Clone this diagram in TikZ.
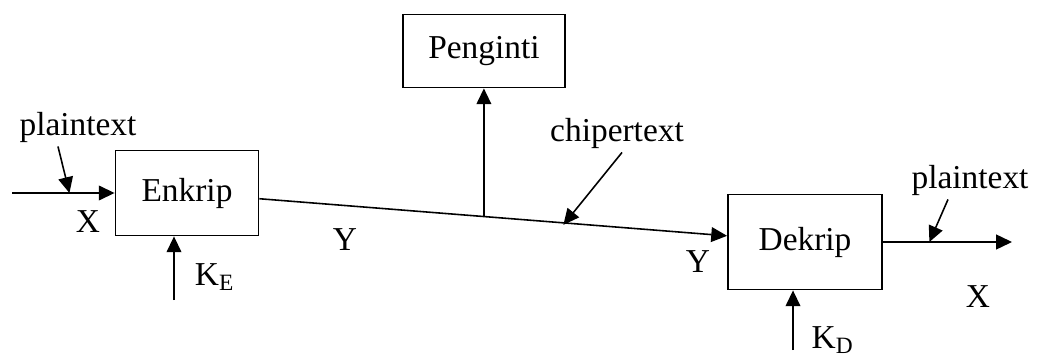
\documentclass[tikz,border=0pt]{standalone}
\usepackage{fontspec}
\setmainfont{Liberation Serif}
\usetikzlibrary{arrows.meta, calc}

\tikzset{
  every block/.style={draw, line width=0.5pt, inner sep=2pt},
  every tag/.style={inner sep=1pt},
}

\begin{document}
\begin{tikzpicture}[x=0.01cm, y=-0.01cm, line width=0.45pt,
    >={Triangle[length=4.5pt, width=4.2pt]},
    font=\fontsize{9.5}{11}\selectfont]
  \useasboundingbox (0,0) rectangle (1064,361);

  \node [every block/.try, minimum width=1.43cm, minimum height=0.85cm](enkrip) at (187,193) {Enkrip};
  \node [every block/.try, minimum width=1.62cm, minimum height=0.73cm](penginti) at (484,51) {Penginti};
  \node [every block/.try, minimum width=1.54cm, minimum height=0.95cm](dekrip) at (805,242) {Dekrip};

  \coordinate (in) at (12,193);
  \coordinate (out) at (1012,242);
  \coordinate (ke) at (174,300);
  \coordinate (kd) at (793,350);
  \coordinate (tap) at ($(enkrip.east)!0.48!(dekrip.west)$);
  \coordinate (x-in) at ($(in)!0.56!(enkrip.west)$);
  \coordinate (y-mid) at ($(enkrip.east)!0.65!(dekrip.west)$);
  \coordinate (x-out) at ($(dekrip.east)!0.36!(out)$);

  % main path
  \draw [->] (in) -- (enkrip);
  \draw [->] (enkrip) -- (dekrip);
  \draw [->] (dekrip) -- (out);
  \draw [->] (tap) -- (tap |- penginti.south);

  % keys
  \draw [->] (ke) -- (ke |- enkrip.south);
  \draw [->] (kd) -- (kd |- dekrip.south);

  % pointers
  \node [every tag/.try](pt-in) at (78,127) {plaintext};
  \node [every tag/.try](ct) at (617,133) {chipertext};
  \node [every tag/.try](pt-out) at (970,180) {plaintext};
  \draw [->] ([xshift=-0.2cm]pt-in.south) -- (x-in);
  \draw [->] ([xshift=0.05cm]ct.south) -- (y-mid);
  \draw [->] ([xshift=-0.22cm]pt-out.south) -- (x-out);

  \foreach \t/\p in {X/{(88,222)}, Y/{(345,240)}, Y/{(698,262)}, X/{(978,297)},
      K\textsubscript{E}/{(215,277)}, K\textsubscript{D}/{(833,340)}}
    \node [every tag/.try] at \p {\t};
\end{tikzpicture}
\end{document}
